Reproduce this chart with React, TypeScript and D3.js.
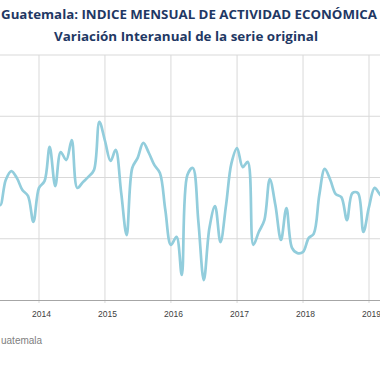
import React from "react";
import * as d3 from "d3";

const title1 = "Guatemala: INDICE MENSUAL DE ACTIVIDAD ECONÓMICA";
const title2 = "Variación Interanual de la serie original";
const source = "uatemala";

// monthly year-on-year variation, May 2013 .. Apr 2019
const startMonth = new Date(2013, 4, 1);
const values = [
  3.59, 3.1, 3.92, 4.21, 3.98, 3.59, 3.4, 2.55,
  3.66, 3.89, 5.0, 3.72, 4.83, 4.57, 5.22, 3.66, 3.85, 4.02, 4.24, 5.82,
  5.2, 4.54, 4.9, 3.49, 2.12, 4.31, 4.64, 5.13, 4.8, 4.41, 4.15, 2.94,
  1.8, 2.06, 0.82, 4.08, 4.31, 2.55, 0.65, 2.35, 3.07, 1.89, 3.1, 4.47,
  4.96, 4.34, 4.51, 1.8, 2.22, 2.61, 3.95, 3.1, 1.96, 3.0, 1.7, 1.53,
  1.57, 2.02, 2.16, 3.43, 4.28, 3.92, 3.46, 3.36, 2.61, 3.49, 3.49, 2.22,
  3.04, 3.66, 3.46, 3.27,
];
const yGrid = [2, 4, 6, 8];
const years = [2014, 2015, 2016, 2017, 2018, 2019];

export default function App() {
  const W = 380;
  const H = 380;
  const x = d3
    .scaleTime()
    .domain([new Date(2014, 0, 1), new Date(2019, 0, 1)])
    .range([39, 369]);
  const y = d3.scaleLinear().domain([0, 8]).range([300, 55]);
  const data = values.map((v, i) => ({ date: d3.timeMonth.offset(startMonth, i), v }));
  const line = d3
    .line<{ date: Date; v: number }>()
    .x((d) => x(d.date))
    .y((d) => y(d.v))
    .curve(d3.curveCatmullRom.alpha(0.5));

  return (
    <svg
      width={W}
      height={H}
      style={{ position: "absolute", left: 0, top: 0, background: "#fff" }}
      fontFamily="'Open Sans', sans-serif"
    >
      <text x={189} y={19} textAnchor="middle" fontSize={12.5} fontWeight="bold" fill="#1f3864" textLength={376} lengthAdjust="spacingAndGlyphs">
        {title1}
      </text>
      <text x={186} y={41} textAnchor="middle" fontSize={12} fontWeight="bold" fill="#1f3864" textLength={264} lengthAdjust="spacingAndGlyphs">
        {title2}
      </text>
      {yGrid.map((g) => (
        <line key={g} x1={0} x2={W} y1={y(g)} y2={y(g)} stroke="#d9d9d9" strokeWidth={1} />
      ))}
      {years.map((yr) => {
        const xx = x(new Date(yr, 0, 1));
        return (
          <g key={yr}>
            <line x1={xx} x2={xx} y1={y(8)} y2={y(0) + 3} stroke="#d9d9d9" strokeWidth={1} />
            <text x={xx + 2.5} y={317} textAnchor="middle" fontSize={8.5} fill="#404040" fontFamily="'Liberation Sans', sans-serif">
              {yr}
            </text>
          </g>
        );
      })}
      <line x1={0} x2={W} y1={y(0) + 0.5} y2={y(0) + 0.5} stroke="#a6a6a6" strokeWidth={1} />
      <path d={line(data) || ""} fill="none" stroke="#92cddc" strokeWidth={2.7} strokeLinejoin="round" strokeLinecap="round" />
      <text x={1} y={344} textAnchor="start" fontSize={10} fill="#808080" fontFamily="'Liberation Sans', sans-serif">
        {source}
      </text>
    </svg>
  );
}
